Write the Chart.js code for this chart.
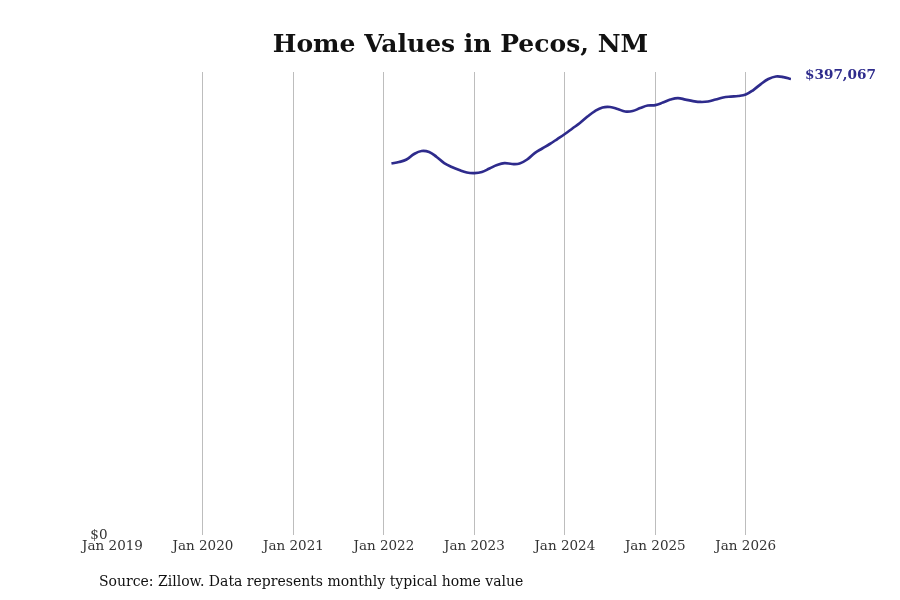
<!DOCTYPE html>
<html>
<head>
<meta charset="utf-8">
<script src="https://cdn.jsdelivr.net/npm/chart.js@4.4.1/dist/chart.umd.min.js"></script>
<style>
  html, body { margin: 0; padding: 0; background: #fff; }
  #wrap { position: relative; width: 900px; height: 600px; font-family: "DejaVu Serif", serif; }
  #title { position: absolute; left: 0; width: 921px; top: 29px; text-align: center;
           font-size: 25px; font-weight: bold; color: #111; }
  #source { position: absolute; left: 99px; top: 573px; font-size: 14px; color: #111; }
  #chart { position: absolute; left: 0; top: 0; }
</style>
</head>
<body>
<div id="wrap">
  <canvas id="chart" width="900" height="600"></canvas>
  <div id="title">Home Values in Pecos, NM</div>
  <div id="source">Source: Zillow. Data represents monthly typical home value</div>
</div>
<script>
// months since Jan 2019 for each reading (Feb 2022 .. Jul 2026)
const months = [
    37, 38, 39, 40, 41, 42, 43, 44, 45, 46, 47,
    48, 49, 50, 51, 52, 53, 54, 55, 56, 57, 58, 59,
    60, 61, 62, 63, 64, 65, 66, 67, 68, 69, 70, 71,
    72, 73, 74, 75, 76, 77, 78, 79, 80, 81, 82, 83,
    84, 85, 86, 87, 88, 89, 90
];

// typical home value, Pecos NM
const homeValues = [
    323500, 324800, 327000, 331800, 334400, 333500, 329200, 323900, 320500, 317800, 315700,
    315200, 316100, 319100, 322200, 323900, 323100, 323500, 327000, 332600, 336600, 340500, 344800,
    349200, 354000, 358800, 364400, 369200, 372300, 372700, 371000, 368800, 369200, 371800, 374000,
    374400, 376600, 379200, 380500, 379200, 377900, 377100, 377500, 379200, 381000, 381800, 382300,
    383600, 387500, 392700, 397100, 399300, 398800, 397067
];

const tickLabels = ['Jan 2019', 'Jan 2020', 'Jan 2021', 'Jan 2022', 'Jan 2023', 'Jan 2024', 'Jan 2025', 'Jan 2026'];

const lineColor = '#2e2b8c';

// label with the latest value, right of the line end
const endLabel = {
    id: 'endLabel',
    afterDatasetsDraw(chart) {
        const ctx = chart.ctx;
        const last = homeValues.length - 1;
        const x = chart.scales.x.getPixelForValue(months[last]);
        const y = chart.scales.y.getPixelForValue(homeValues[last]);
        ctx.save();
        ctx.font = 'bold 13.6px "DejaVu Serif"';
        ctx.fillStyle = lineColor;
        ctx.textBaseline = 'middle';
        ctx.fillText('$' + homeValues[last].toLocaleString('en-US'), x + 14, y - 3.5);
        ctx.restore();
    }
};

new Chart(document.getElementById('chart'), {
    type: 'line',
    data: {
        datasets: [{
            data: months.map((m, i) => ({ x: m, y: homeValues[i] })),
            borderColor: lineColor,
            borderWidth: 2.7,
            pointRadius: 0,
            tension: 0.4,
            fill: false
        }]
    },
    options: {
        responsive: false,
        animation: false,
        layout: { padding: { left: 0, right: 109, top: 72, bottom: 0 } },
        plugins: { legend: { display: false }, tooltip: { enabled: false } },
        scales: {
            x: {
                type: 'linear',
                min: 0,
                max: 90,
                afterBuildTicks(scale) {
                    scale.ticks = tickLabels.map((t, i) => ({ value: i * 12 }));
                },
                afterFit(scale) { scale.height = 65; },
                ticks: {
                    padding: 3,
                    color: '#333',
                    font: { family: 'DejaVu Serif', size: 13.5 },
                    callback: v => tickLabels[v / 12]
                },
                grid: {
                    drawTicks: false,
                    color: ctx => ctx.tick && ctx.tick.value === 0 ? 'rgba(0,0,0,0)' : '#bdbdbd',
                    lineWidth: 1
                },
                border: { display: false }
            },
            y: {
                min: 0,
                max: 403200,
                afterBuildTicks(scale) { scale.ticks = [{ value: 0 }]; },
                afterFit(scale) { scale.width = 112.5; },
                ticks: {
                    padding: 5,
                    color: '#333',
                    font: { family: 'DejaVu Serif', size: 13.5 },
                    callback: v => '$' + v
                },
                grid: { display: false, drawTicks: false },
                border: { display: false }
            }
        }
    },
    plugins: [endLabel]
});
</script>
</body>
</html>
